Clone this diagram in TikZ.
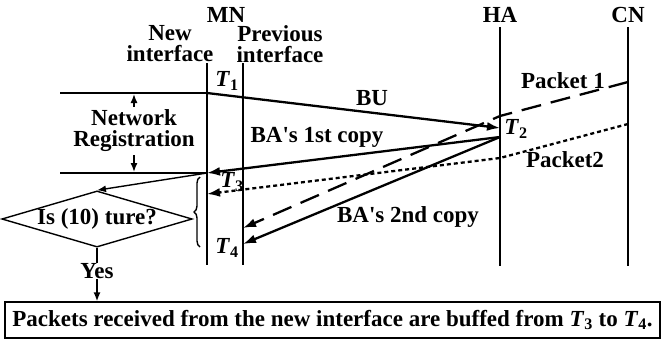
\documentclass[tikz,border=0pt]{standalone}
\usepackage{fontspec}
\setmainfont{Liberation Serif}
\usetikzlibrary{arrows.meta,shapes.geometric,decorations.pathreplacing}
\newcommand{\Tn}[1]{\textit{T}\textsubscript{#1}}
\begin{document}
\begin{tikzpicture}[
  x=1pt, y=-1pt,
  lbl/.style={font=\fontsize{23}{21}\selectfont\bfseries, align=center, inner sep=0pt},
  life/.style={line width=2.8pt},
  thin/.style={line width=1.4pt},
  msg/.style={line width=2.3pt, -{Latex[length=13pt,width=9pt]}},
  small/.style={line width=1.4pt, -{Latex[length=9pt,width=7pt]}},
  pkta/.style={msg, dash pattern=on 20pt off 10pt},
  pktb/.style={msg, dash pattern=on 4pt off 3pt},
  decide/.style={diamond, draw, thin, aspect=3.39, inner sep=-3pt,
    minimum width=183pt, minimum height=54pt, lbl},
  result/.style={draw, thin, minimum width=655pt, minimum height=36pt, lbl}]
  \useasboundingbox (0,0) rectangle (663,341);
  \node[lbl] (mn) at (226,15) {MN};
  \node[lbl] (newif) at (170,44) {New\\interface};
  \node[lbl] (previf) at (280,44) {Previous\\interface};
  \node[lbl] (ha) at (500,15) {HA};
  \node[lbl] (cn) at (628,15) {CN};
  \coordinate (nTop) at (207,63);
  \coordinate (nBot) at (207,265);
  \coordinate (pTop) at (243,63);
  \coordinate (pBot) at (243,265);
  \coordinate (haTop) at (500,27);
  \coordinate (haBot) at (500,266);
  \coordinate (cnTop) at (628,27);
  \coordinate (cnBot) at (628,266);
  \draw[life] (nTop) -- (nBot);
  \draw[life] (pTop) -- (pBot);
  \draw[life] (haTop) -- (haBot);
  \draw[life] (cnTop) -- (cnBot);
  \coordinate (n1) at (207,93);
  \coordinate (n2) at (207,194);
  \coordinate (n3) at (207,173);
  \coordinate (p3) at (243,228);
  \coordinate (p4) at (243,244);
  \coordinate (h1) at (500,128);
  \coordinate (h2) at (500,137);
  \coordinate (h3) at (500,116);
  \coordinate (h4) at (500,158);
  \coordinate (c1) at (628,82);
  \coordinate (c2) at (628,124);
  \coordinate (rA) at (60,93);
  \coordinate (rB) at (60,173);
  \coordinate (regUp) at (134,94);
  \coordinate (regDn) at (134,172);
  \draw[thin] (rA) -- (n1);
  \draw[thin] (rB) -- (n3);
  \node[lbl, inner sep=3pt] (reg) at (134,131) {Network\\Registration};
  \draw[small] (reg.north) -- (regUp);
  \draw[small] (reg.south) -- (regDn);
  \draw[msg] (n1) -- (h1);
  \draw[msg] (h2) -- (n3);
  \draw[msg] (h2) -- (p4);
  \draw[pkta] (c1) -- (h3) -- (p3);
  \draw[pktb] (c2) -- (h4) -- (n2);
  \node[lbl] (bu) at (372,98) {BU};
  \node[lbl] (ba1) at (317,137) {BA\textquotesingle s 1st copy};
  \node[lbl] (ba2) at (408,217) {BA\textquotesingle s 2nd copy};
  \node[lbl] (pk1) at (563,81) {Packet 1};
  \node[lbl] (pk2) at (565,160) {Packet2};
  \node[lbl] (t1) at (227,81) {\Tn{1}};
  \node[lbl] (t2) at (516,129) {\Tn{2}};
  \node[lbl] (t3) at (232,182) {\Tn{3}};
  \node[lbl] (t4) at (227,248) {\Tn{4}};
  \draw[thin, decorate, decoration={brace, amplitude=6pt}] (200,247) -- (200,177);
  \node[decide] (dec) at (97,219) {Is (10) ture?};
  \node[lbl] (yes) at (97,271) {Yes};
  \node[result] (fin) at (332.5,320) {Packets received from the new interface are buffed from \Tn{3} to \Tn{4}.};
  \draw[small] (n3) -- (dec.north);
  \draw[thin] (dec.south) -- (yes.north);
  \draw[small] (yes.south) -- (yes.south |- fin.north);
\end{tikzpicture}
\end{document}
